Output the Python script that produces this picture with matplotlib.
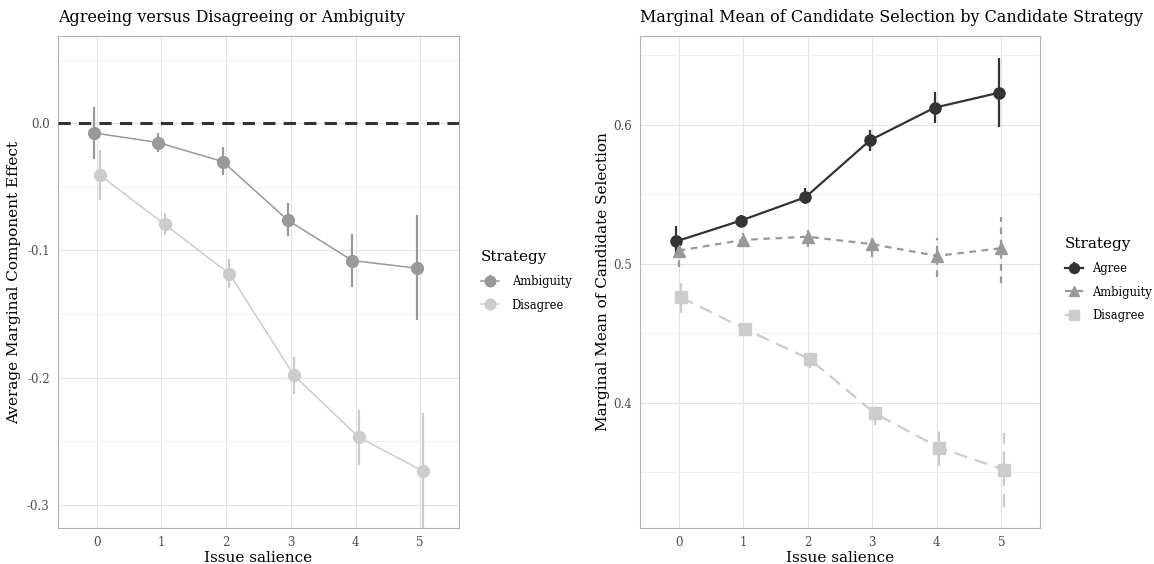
import matplotlib
matplotlib.use('Agg')
import matplotlib.pyplot as plt
import numpy as np

plt.rcParams['font.family'] = ['DejaVu Serif']

salience = [0, 1, 2, 3, 4, 5]

# AMCE relative to agreeing
amce_amb = [-0.0076, -0.0152, -0.0302, -0.0761, -0.1079, -0.1139]
amce_amb_lo = [-0.0278, -0.0226, -0.0404, -0.0890, -0.1289, -0.1546]
amce_amb_hi = [0.0128, -0.0076, -0.0189, -0.0630, -0.0869, -0.0724]
amce_dis = [-0.0409, -0.0795, -0.1183, -0.1982, -0.2467, -0.2735]
amce_dis_lo = [-0.0601, -0.0877, -0.1294, -0.2124, -0.2683, -0.3190]
amce_dis_hi = [-0.0213, -0.0706, -0.1068, -0.1840, -0.2250, -0.2278]

# marginal means by strategy
mm_agree = [0.5163, 0.5312, 0.5480, 0.5890, 0.6124, 0.6232]
mm_agree_lo = [0.5050, 0.5268, 0.5432, 0.5815, 0.6012, 0.5983]
mm_agree_hi = [0.5273, 0.5353, 0.5545, 0.5964, 0.6237, 0.6480]
mm_amb = [0.5096, 0.5173, 0.5196, 0.5142, 0.5058, 0.5113]
mm_amb_lo = [0.4975, 0.5125, 0.5124, 0.5053, 0.4909, 0.4861]
mm_amb_hi = [0.5200, 0.5220, 0.5245, 0.5185, 0.5185, 0.5340]
mm_dis = [0.4760, 0.4530, 0.4314, 0.3926, 0.3679, 0.3520]
mm_dis_lo = [0.4650, 0.4490, 0.4250, 0.3842, 0.3547, 0.3254]
mm_dis_hi = [0.4860, 0.4570, 0.4376, 0.3978, 0.3810, 0.3782]

W, H = 1154, 564
fig = plt.figure(figsize=(W / 100, H / 100), dpi=100)


def px_axes(x0, y0, x1, y1):
    return fig.add_axes([x0 / W, 1 - y1 / H, (x1 - x0) / W, (y1 - y0) / H])


def style(ax):
    ax.set_facecolor('white')
    for s in ax.spines.values():
        s.set_color('#b3b3b3')
        s.set_linewidth(0.8)
    ax.grid(True, which='major', color='#e3e3e3', lw=0.8)
    ax.grid(True, which='minor', axis='y', color='#f0f0f0', lw=0.8)
    ax.set_axisbelow(True)
    ax.tick_params(axis='both', which='both', length=0, labelsize=8.5,
                   labelcolor='#4d4d4d', pad=6)
    ax.set_xticks(salience)
    ax.set_xlim(-0.6, 5.6)
    ax.set_xlabel('Issue salience', fontsize=11, labelpad=1)


def series(ax, x, y, lo, hi, color, marker, ms, lw, ls, bar_ls='-', label=None):
    y = np.array(y)
    err = [y - np.array(lo), np.array(hi) - y]
    c = ax.errorbar(x, y, yerr=err, color=color, marker=marker, ms=ms, lw=lw,
                    ls=ls, elinewidth=1.6, capsize=0, label=label, zorder=3)
    c.lines[0].set_dash_capstyle('butt')
    if bar_ls != '-':
        c[2][0].set_linestyle(bar_ls)
    return c


def legend(handles, labels, x0, y0, tpad):
    leg = fig.legend(handles=handles, labels=labels, title='Strategy', loc='upper left',
                     bbox_to_anchor=(x0 / W, 1 - y0 / H), frameon=False, fontsize=8.3,
                     title_fontsize=11, handlelength=1.6, handletextpad=tpad,
                     labelspacing=0.95, markerscale=0.9, borderaxespad=0)
    leg._legend_box.align = 'left'
    return leg


x = np.array(salience, dtype=float)

# left: AMCE panel
ax1 = px_axes(58, 36, 459, 528)
style(ax1)
ax1.set_ylim(-0.318, 0.0685)
ax1.set_yticks([0.0, -0.1, -0.2, -0.3])
ax1.set_yticklabels(['0.0', '-0.1', '-0.2', '-0.3'])
ax1.set_yticks([0.05, -0.05, -0.15, -0.25], minor=True)
ax1.axhline(0, color='#333333', lw=2.2, ls=(0, (4, 2.7)), zorder=4)
h1 = series(ax1, x - 0.05, amce_amb, amce_amb_lo, amce_amb_hi, '#999999', 'o', 8.5, 1.1, '-',
            label='Ambiguity')
h2 = series(ax1, x + 0.05, amce_dis, amce_dis_lo, amce_dis_hi, '#cccccc', 'o', 8.5, 1.1, '-',
            label='Disagree')
ax1.set_title('Agreeing versus Disagreeing or Ambiguity', fontsize=11.5, loc='left',
              x=0.0, pad=10)
ax1.set_ylabel('Average Marginal Component Effect', fontsize=11, labelpad=4)
legend([h1, h2], ['Ambiguity', 'Disagree'], 476, 245, 1.1)

# right: marginal means panel
ax2 = px_axes(640, 36, 1040, 528)
style(ax2)
ax2.set_ylim(0.310, 0.664)
ax2.set_yticks([0.4, 0.5, 0.6])
ax2.set_yticks([0.35, 0.45, 0.55, 0.65], minor=True)
g1 = series(ax2, x - 0.035, mm_agree, mm_agree_lo, mm_agree_hi, '#333333', 'o', 8, 1.6, '-',
            label='Agree')
g2 = series(ax2, x, mm_amb, mm_amb_lo, mm_amb_hi, '#999999', '^', 8.5, 1.6, (0, (3, 2.5)),
            bar_ls=(0, (3, 2.5)), label='Ambiguity')
g3 = series(ax2, x + 0.035, mm_dis, mm_dis_lo, mm_dis_hi, '#cccccc', 's', 8, 1.6, (0, (6, 3.5)),
            bar_ls=(0, (6, 3.5)), label='Disagree')
ax2.set_title('Marginal Mean of Candidate Selection by Candidate Strategy', fontsize=11.5,
              loc='left', x=0.0, pad=10)
ax2.set_ylabel('Marginal Mean of Candidate Selection', fontsize=11, labelpad=2)
legend([g1, g2, g3], ['Agree', 'Ambiguity', 'Disagree'], 1060, 232, 0.8)

fig.savefig('out.png', dpi=100, facecolor='white')
